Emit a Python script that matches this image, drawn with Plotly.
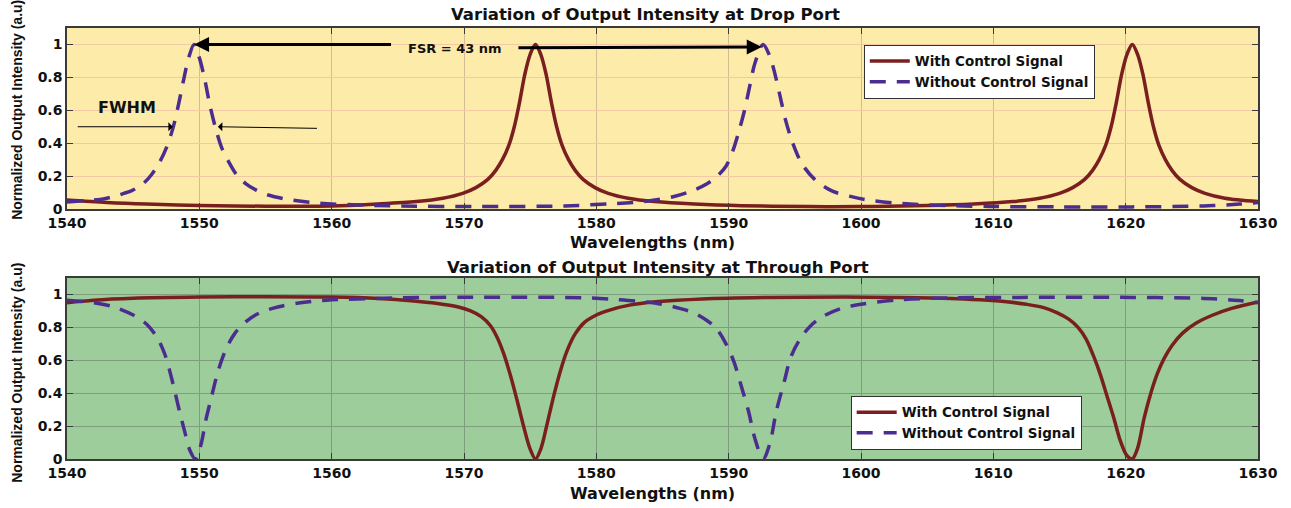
import plotly.graph_objects as go
from plotly.subplots import make_subplots

# Wavelength grid (nm) and normalized intensities for each port / case
drop_with_x = [1540.0, 1543.0, 1546.0, 1550.0, 1555.0, 1560.0, 1563.4, 1566.4, 1568.4, 1569.9,
               1570.9, 1571.8, 1572.4, 1572.9, 1573.4, 1573.8, 1574.2, 1574.6, 1575.0, 1575.4,
               1575.8, 1576.2, 1576.6, 1577.0, 1577.4, 1577.9, 1578.4, 1579.0, 1579.9, 1580.9,
               1582.4, 1584.4, 1587.4, 1591.0, 1596.0, 1598.0, 1601.0, 1605.0, 1608.5, 1611.5,
               1613.5, 1615.0, 1616.0, 1616.9, 1617.5, 1618.0, 1618.5, 1618.9, 1619.3, 1619.7,
               1620.1, 1620.5, 1620.9, 1621.3, 1621.7, 1622.1, 1622.5, 1623.0, 1623.5, 1624.1,
               1625.0, 1626.0, 1627.5, 1630.0]
drop_with_y = [0.055, 0.04, 0.03, 0.022, 0.017, 0.018, 0.03, 0.045, 0.065, 0.095,
               0.13, 0.18, 0.235, 0.30, 0.39, 0.50, 0.65, 0.82, 0.94, 1.0,
               0.94, 0.82, 0.65, 0.50, 0.39, 0.30, 0.235, 0.18, 0.13, 0.095,
               0.065, 0.045, 0.03, 0.02, 0.015, 0.014, 0.016, 0.021, 0.03, 0.045,
               0.065, 0.095, 0.13, 0.18, 0.235, 0.30, 0.39, 0.50, 0.65, 0.82,
               0.94, 1.0, 0.94, 0.82, 0.65, 0.50, 0.39, 0.30, 0.235, 0.18,
               0.13, 0.095, 0.065, 0.045]

drop_without_x = [1540.0, 1541.3, 1542.5, 1543.5, 1544.3, 1544.9, 1545.7, 1546.4, 1547.0, 1547.5,
                  1548.0, 1548.4, 1548.8, 1549.2, 1549.6, 1550.0, 1550.4, 1550.8, 1551.2, 1551.7,
                  1552.2, 1552.8, 1553.5, 1554.3, 1555.2, 1556.6, 1559.1, 1561.6, 1564.6, 1571.1,
                  1577.6, 1581.3, 1583.8, 1585.8, 1587.3, 1588.4, 1589.2, 1589.8, 1590.3, 1590.8,
                  1591.2, 1591.6, 1592.0, 1592.6, 1593.1, 1593.5, 1593.9, 1594.3, 1594.8, 1595.5,
                  1596.5, 1597.8, 1599.2, 1600.3, 1602.5, 1605.2, 1609.6, 1615.0, 1620.5, 1625.9,
                  1628.6, 1630.0]
drop_without_y = [0.043, 0.05, 0.058, 0.075, 0.095, 0.112, 0.15, 0.21, 0.285, 0.37,
                  0.49, 0.625, 0.78, 0.92, 1.0, 0.92, 0.79, 0.63, 0.50, 0.37,
                  0.29, 0.21, 0.155, 0.115, 0.085, 0.06, 0.035, 0.026, 0.019, 0.015,
                  0.019, 0.033, 0.047, 0.075, 0.113, 0.155, 0.205, 0.26, 0.35, 0.48,
                  0.60, 0.75, 0.89, 1.0, 0.93, 0.82, 0.68, 0.54, 0.41, 0.28,
                  0.18, 0.11, 0.077, 0.058, 0.037, 0.024, 0.016, 0.013, 0.013, 0.019,
                  0.03, 0.04]

thru_with_x = [1540.0, 1542.0, 1545.0, 1550.0, 1555.0, 1560.0, 1563.6, 1566.0, 1568.0, 1569.5,
               1570.5, 1571.3, 1572.0, 1572.5, 1573.0, 1573.5, 1574.0, 1574.5, 1575.0, 1575.4,
               1575.8, 1576.3, 1576.8, 1577.3, 1577.8, 1578.4, 1579.1, 1580.0, 1581.0, 1582.5,
               1584.5, 1588.0, 1593.0, 1598.7, 1603.0, 1606.8, 1609.0, 1611.0, 1612.5, 1613.8,
               1614.8, 1615.7, 1616.4, 1617.0, 1617.6, 1618.1, 1618.6, 1619.1, 1619.6, 1620.1,
               1620.5, 1620.9, 1621.4, 1621.9, 1622.4, 1622.9, 1623.5, 1624.3, 1625.3, 1626.5,
               1628.0, 1630.0]
thru_with_y = [0.95, 0.965, 0.977, 0.984, 0.986, 0.984, 0.975, 0.962, 0.945, 0.925,
               0.90, 0.865, 0.81, 0.74, 0.64, 0.51, 0.36, 0.20, 0.06, 0.0,
               0.06, 0.22, 0.39, 0.54, 0.66, 0.76, 0.83, 0.875, 0.905, 0.935,
               0.955, 0.973, 0.982, 0.984, 0.982, 0.976, 0.967, 0.955, 0.94, 0.92,
               0.89, 0.85, 0.80, 0.73, 0.62, 0.51, 0.38, 0.25, 0.11, 0.02,
               0.0, 0.065, 0.25, 0.40, 0.52, 0.61, 0.69, 0.765, 0.825, 0.872,
               0.915, 0.955]

thru_without_x = [1540.0, 1542.0, 1543.5, 1545.0, 1546.0, 1546.8, 1547.4, 1548.0, 1548.5, 1548.9,
                  1549.3, 1549.7, 1550.1, 1550.5, 1550.9, 1551.4, 1552.0, 1552.7, 1553.6, 1554.6,
                  1556.0, 1557.5, 1559.6, 1564.6, 1570.0, 1576.0, 1579.0, 1581.3, 1583.3, 1585.0,
                  1586.3, 1587.3, 1588.2, 1589.0, 1589.8, 1590.4, 1591.0, 1591.5, 1592.0, 1592.6,
                  1593.1, 1593.6, 1594.2, 1594.7, 1595.4, 1596.2, 1597.2, 1598.5, 1600.0, 1602.8,
                  1606.8, 1612.0, 1620.5, 1625.9, 1628.6, 1630.0]
thru_without_y = [0.965, 0.95, 0.925, 0.875, 0.82, 0.74, 0.635, 0.46, 0.29, 0.165,
                  0.05, 0.0, 0.08, 0.24, 0.37, 0.53, 0.665, 0.765, 0.84, 0.89,
                  0.925, 0.948, 0.965, 0.978, 0.983, 0.983, 0.98, 0.97, 0.958, 0.94,
                  0.915, 0.89, 0.85, 0.80, 0.70, 0.59, 0.43, 0.29, 0.12, 0.0,
                  0.09, 0.29, 0.47, 0.62, 0.73, 0.81, 0.87, 0.915, 0.94, 0.967,
                  0.979, 0.982, 0.982, 0.976, 0.963, 0.95]

y_ticks = [0, 0.2, 0.4, 0.6, 0.8, 1]
y_tick_text = ["0", "0.2", "0.4", "0.6", "0.8", "1"]
x_ticks = [1540, 1550, 1560, 1570, 1580, 1590, 1600, 1610, 1620, 1630]

SOLID_COLOR = "#7A1F1F"
DASH_COLOR = "#4B2D8F"
FONT = "DejaVu Sans, Verdana, sans-serif"
NARROW = "Liberation Sans, Arial, sans-serif"

fig = make_subplots(rows=2, cols=1, vertical_spacing=0.16)

def add_pair(xs_a, ys_a, xs_b, ys_b, row, legend):
    fig.add_trace(go.Scatter(x=xs_a, y=ys_a, mode="lines", name="With Control Signal",
                             line=dict(color=SOLID_COLOR, width=3.5, shape="spline", smoothing=0.9),
                             legend=legend), row=row, col=1)
    fig.add_trace(go.Scatter(x=xs_b, y=ys_b, mode="lines", name="Without Control Signal",
                             line=dict(color=DASH_COLOR, width=3.5, dash="16px,11px",
                                       shape="spline", smoothing=0.9),
                             legend=legend), row=row, col=1)

add_pair(drop_with_x, drop_with_y, drop_without_x, drop_without_y, 1, "legend")
add_pair(thru_with_x, thru_with_y, thru_without_x, thru_without_y, 2, "legend2")

axis_common = dict(showline=True, linecolor="#3a3a3a", linewidth=1.5, mirror="ticks",
                   ticks="inside", ticklen=6, tickcolor="#3a3a3a", zeroline=False,
                   tickfont=dict(family=FONT, size=14, color="#111", weight="bold"))

for r, (bg, gx, gy) in enumerate([("#FDEBA9", "#D2BC94", "#F2C9A3"),
                                  ("#9DCD9B", "#7E9E7E", "#7E9E7E")], start=1):
    fig.update_xaxes(range=[1540, 1630], tickvals=x_ticks, showgrid=True, gridcolor=gx,
                     gridwidth=1, row=r, col=1, **axis_common)
    fig.update_yaxes(range=[0, 1.1], tickvals=y_ticks, ticktext=y_tick_text, showgrid=True,
                     gridcolor=gy, gridwidth=1, row=r, col=1, **axis_common)
    xr = "x" if r == 1 else "x2"
    yr = "y" if r == 1 else "y2"
    fig.add_shape(type="rect", xref=f"{xr} domain", yref=f"{yr} domain", x0=0, x1=1, y0=0, y1=1,
                  fillcolor=bg, line=dict(width=0), layer="below")

legend_style = dict(bgcolor="white", bordercolor="#333", borderwidth=1,
                    font=dict(family=FONT, size=13.5, color="#111", weight="bold"),
                    tracegroupgap=0, itemwidth=40)
fig.update_layout(
    width=1291, height=508,
    margin=dict(l=67, r=33, t=28, b=49),
    paper_bgcolor="white", plot_bgcolor="rgba(0,0,0,0)",
    font=dict(family=FONT, color="#111"),
    yaxis=dict(domain=[0.580, 1.0]),
    yaxis2=dict(domain=[0.0, 0.42]),
    legend=dict(x=0.669, y=0.961, xanchor="left", yanchor="top", **legend_style),
    legend2=dict(x=0.658, y=0.021, xanchor="left", yanchor="bottom", **legend_style),
)

bold = dict(color="#111", weight="bold")
ann = [
    dict(text="Variation of Output Intensity at Drop Port", x=0.486, y=1.032,
         font=dict(family=FONT, size=16.5, **bold)),
    dict(text="Variation of Output Intensity at Through Port", x=0.496, y=0.445,
         font=dict(family=FONT, size=16.5, **bold)),
    dict(text="Wavelengths (nm)", x=0.492, y=0.503, font=dict(family=FONT, size=16, **bold)),
    dict(text="Wavelengths (nm)", x=0.492, y=-0.079, font=dict(family=FONT, size=16, **bold)),
    dict(text="Normalized Output Intensity (a.u)", x=-0.042, y=0.81, textangle=-90,
         font=dict(family=NARROW, size=14, **bold)),
    dict(text="Normalized Output Intensity (a.u)", x=-0.042, y=0.20, textangle=-90,
         font=dict(family=NARROW, size=14, **bold)),
]
for a in ann:
    fig.add_annotation(xref="paper", yref="paper", showarrow=False, xanchor="center",
                       yanchor="middle", **a)

# FSR markers between neighbouring resonances of the uncontrolled ring
fig.add_annotation(x=1549.6, y=1.0, ax=1564.6, ay=1.0, xref="x", yref="y", axref="x", ayref="y",
                   showarrow=True, arrowhead=2, arrowsize=1.0, arrowwidth=3, arrowcolor="black",
                   text="")
fig.add_annotation(x=1592.5, y=0.985, ax=1574.0, ay=0.98, xref="x", yref="y", axref="x",
                   ayref="y", showarrow=True, arrowhead=2, arrowsize=1.0, arrowwidth=3,
                   arrowcolor="black", text="")
fig.add_annotation(x=1569.3, y=0.975, xref="x", yref="y", showarrow=False, text="FSR = 43 nm",
                   font=dict(family=FONT, size=13, **bold))

# FWHM markers
fig.add_annotation(x=1548.0, y=0.5, ax=1540.7, ay=0.5, xref="x", yref="y", axref="x", ayref="y",
                   showarrow=True, arrowhead=1, arrowsize=1.5, arrowwidth=1, arrowcolor="black",
                   text="")
fig.add_annotation(x=1551.4, y=0.5, ax=1559.0, ay=0.49, xref="x", yref="y", axref="x",
                   ayref="y", showarrow=True, arrowhead=1, arrowsize=1.5, arrowwidth=1,
                   arrowcolor="black", text="")
fig.add_annotation(x=1544.5, y=0.616, xref="x", yref="y", showarrow=False, text="FWHM",
                   font=dict(family=FONT, size=16, **bold))

fig.write_html("out.html")
